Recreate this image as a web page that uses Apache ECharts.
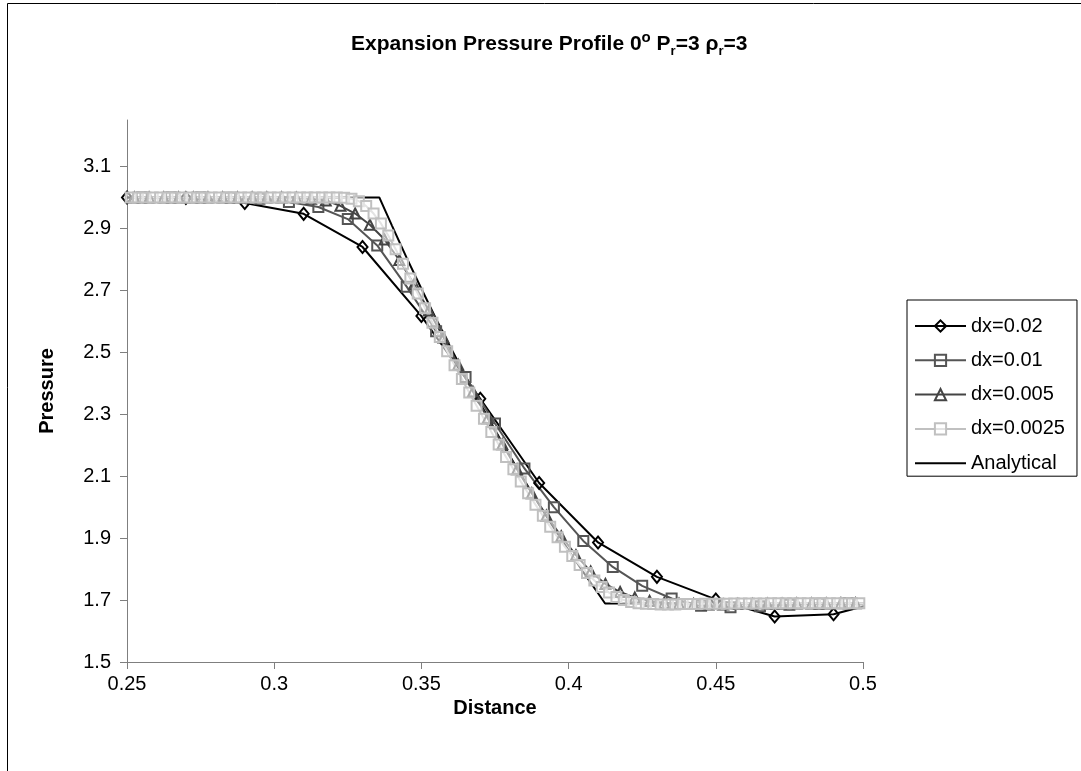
<!DOCTYPE html>
<html>
<head>
<meta charset="utf-8">
<title>Expansion Pressure Profile</title>
<script src="https://cdn.jsdelivr.net/npm/echarts@6.0.0/dist/echarts.min.js"></script>
<style>
html, body { margin: 0; padding: 0; background: #fff; }
#pressureChart { width: 1081px; height: 771px; }
</style>
</head>
<body>
<div id="pressureChart"></div>
<script>
// axis tick labels
var xTicks = [0.25, 0.3, 0.35, 0.4, 0.45, 0.5]
var yTicks = [1.5, 1.7, 1.9, 2.1, 2.3, 2.5, 2.7, 2.9, 3.1]

var seriesNames = ['dx=0.02', 'dx=0.01', 'dx=0.005', 'dx=0.0025', 'Analytical']

// cell centres of each mesh (first centre, spacing)
var mesh02 = [0.25, 0.02]
var mesh01 = [0.255, 0.01]
var mesh005 = [0.2525, 0.005]
var mesh0025 = [0.25125, 0.0025]

// pressure, one value per cell centre
var p02 = [3.0, 2.998, 2.982, 2.947, 2.84, 2.617, 2.35, 2.078, 1.886, 1.775, 1.702, 1.647, 1.654, 1.705]

var p01 = [3.0, 3.0, 3.0, 2.999, 2.996, 2.985, 2.969, 2.93, 2.845, 2.712, 2.568, 2.42, 2.27,
  2.125, 2.0, 1.891, 1.807, 1.746, 1.705, 1.682, 1.677, 1.68, 1.685, 1.688, 1.69, 1.69]

var p005 = [3.0, 3.0, 3.0, 3.0, 3.0, 3.0, 3.0, 3.0, 3.0, 3.0, 3.0,
  2.999, 2.996, 2.99, 2.973, 2.948, 2.912, 2.864, 2.798, 2.72, 2.635,
  2.548, 2.46, 2.373, 2.287, 2.203, 2.122, 2.045, 1.973, 1.906, 1.845, 1.792, 1.752, 1.726,
  1.708, 1.697, 1.691, 1.688, 1.687,
  1.686, 1.686, 1.687, 1.687, 1.688, 1.688, 1.689, 1.689, 1.689, 1.69, 1.69, 1.69]

var p0025 = [3.0, 3.0, 3.0, 3.0, 3.0, 3.0, 3.0, 3.0, 3.0, 3.0, 3.0, 3.0, 3.0, 3.0, 3.0,
  3.0, 3.0, 3.0, 3.0, 3.0, 3.0, 3.0, 3.0, 3.0, 3.0, 3.0, 3.0, 3.0, 3.0,
  2.999, 2.996, 2.988, 2.972, 2.948, 2.916, 2.877, 2.833, 2.786, 2.738, 2.69, 2.642,
  2.595, 2.549, 2.503, 2.458, 2.414, 2.37, 2.327, 2.285, 2.243, 2.202, 2.162, 2.122,
  2.083, 2.045, 2.008, 1.972, 1.937, 1.903, 1.872, 1.842, 1.813, 1.787, 1.763, 1.742,
  1.724, 1.71, 1.70, 1.694, 1.69, 1.688,
  1.687, 1.686, 1.686, 1.686, 1.687, 1.687, 1.687, 1.688, 1.688, 1.688, 1.688, 1.689,
  1.689, 1.689, 1.689, 1.689, 1.69, 1.69, 1.69, 1.69, 1.69, 1.69, 1.69, 1.69, 1.69,
  1.69, 1.69, 1.69, 1.69, 1.69]

// analytical rarefaction
var anaX = [0.25, 0.3357, 0.34, 0.345, 0.35, 0.355, 0.36, 0.365, 0.37, 0.375, 0.38, 0.385,
  0.39, 0.395, 0.40, 0.405, 0.41, 0.4124, 0.5]
var anaP = [3.0, 3.0, 2.909, 2.805, 2.705, 2.608, 2.514, 2.423, 2.335, 2.249, 2.166, 2.086,
  2.008, 1.933, 1.861, 1.79, 1.722, 1.689, 1.689]

function onMesh (mesh, values) {
  return values.map(function (v, i) { return [mesh[0] + i * mesh[1], v] })
}

var font = 'Arial, "Liberation Sans", sans-serif'

var chart = echarts.init(document.getElementById('pressureChart'))

function numSeries (name, data, symbol, size, color, fill) {
  return {
    name: name,
    type: 'line',
    data: data,
    symbol: symbol,
    symbolSize: size,
    showSymbol: true,
    lineStyle: { color: color, width: 2 },
    itemStyle: { color: fill, borderColor: color, borderWidth: 2 },
    emphasis: { disabled: true },
    silent: true
  }
}

chart.setOption({
  animation: false,
  backgroundColor: '#fff',
  title: {
    text: 'Expansion Pressure Profile 0{sup|o} P{sub|r}=3 ρ{sub|r}=3',
    left: 346,
    top: 25,
    textStyle: {
      fontFamily: font,
      fontSize: 21,
      fontWeight: 'bold',
      color: '#000',
      lineHeight: 28,
      rich: {
        sup: { fontFamily: font, fontSize: 15, fontWeight: 'bold', lineHeight: 14, verticalAlign: 'top', color: '#000' },
        sub: { fontFamily: font, fontSize: 13, fontWeight: 'bold', lineHeight: 13, verticalAlign: 'bottom', color: '#000' }
      }
    }
  },
  graphic: [{
    type: 'rect',
    shape: { x: 7.5, y: 3.5, width: 1200, height: 900 },
    style: { fill: 'none', stroke: '#000', lineWidth: 1 },
    silent: true
  }],
  legend: {
    data: [
      seriesNames[0], seriesNames[1], seriesNames[2], seriesNames[3],
      { name: seriesNames[4], itemStyle: { opacity: 0 } } // plain line, no marker
    ],
    orient: 'vertical',
    left: 907,
    top: 300,
    padding: [16, 12, 3, 7],
    itemWidth: 51,
    itemHeight: 14,
    itemGap: 14.3,
    borderColor: '#000',
    borderWidth: 1,
    textStyle: { fontFamily: font, fontSize: 20, color: '#000', lineHeight: 20 }
  },
  grid: { left: 127, right: 218, top: 120, bottom: 109 },
  xAxis: {
    type: 'value',
    min: 0.25,
    max: 0.5,
    interval: 0.05,
    name: 'Distance',
    nameLocation: 'middle',
    nameGap: 33,
    nameTextStyle: { fontFamily: font, fontSize: 20, fontWeight: 'bold', color: '#000' },
    axisLine: { show: true, onZero: false, lineStyle: { color: '#7f7f7f', width: 1 } },
    axisTick: { show: true, length: 7, customValues: xTicks, lineStyle: { color: '#7f7f7f' } },
    axisLabel: { customValues: xTicks, margin: 12, fontFamily: font, fontSize: 20, color: '#000' },
    splitLine: { show: false }
  },
  yAxis: {
    type: 'value',
    min: 1.5,
    max: 3.25,
    interval: 0.2,
    name: 'Pressure',
    nameLocation: 'middle',
    nameGap: 70,
    nameTextStyle: { fontFamily: font, fontSize: 20, fontWeight: 'bold', color: '#000' },
    axisLine: { show: true, onZero: false, lineStyle: { color: '#7f7f7f', width: 1 } },
    axisTick: { show: true, length: 7, customValues: yTicks, lineStyle: { color: '#7f7f7f' } },
    axisLabel: { customValues: yTicks, margin: 16, fontFamily: font, fontSize: 20, color: '#000' },
    splitLine: { show: false }
  },
  series: [
    {
      name: 'Analytical',
      type: 'line',
      data: anaX.map(function (x, i) { return [x, anaP[i]] }),
      symbol: 'none',
      lineStyle: { color: '#000', width: 2 },
      itemStyle: { color: '#000' },
      emphasis: { disabled: true },
      silent: true
    },
    numSeries('dx=0.02', onMesh(mesh02, p02), 'diamond', [10, 12], '#000', 'transparent'),
    numSeries('dx=0.01', onMesh(mesh01, p01), 'rect', 10, '#555', 'transparent'),
    numSeries('dx=0.005', onMesh(mesh005, p005), 'triangle', 10, '#444', 'transparent'),
    // finest mesh drawn last, its squares sit over the others
    numSeries('dx=0.0025', onMesh(mesh0025, p0025), 'rect', 10, '#c0c0c0', 'rgba(255,255,255,0.55)')
  ]
})
</script>
</body>
</html>
